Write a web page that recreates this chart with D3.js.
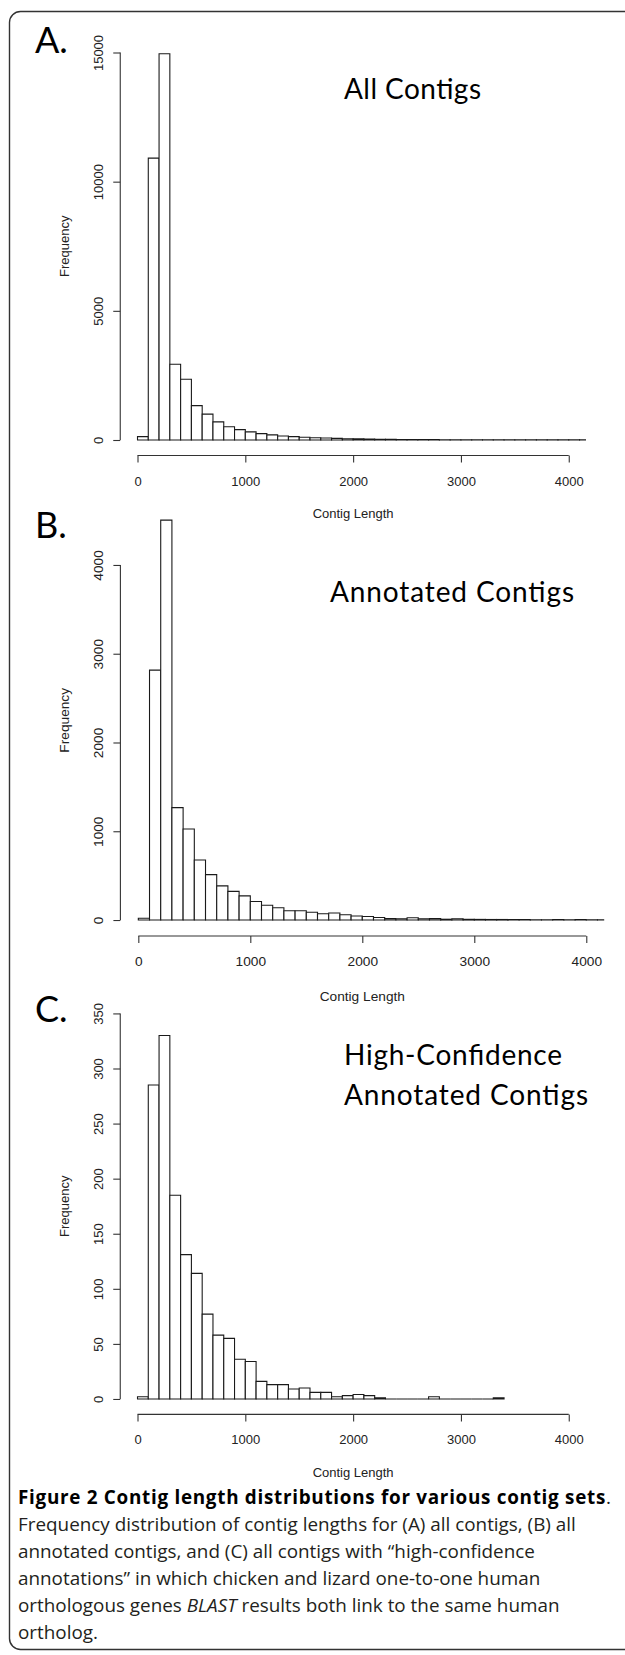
<!DOCTYPE html>
<html>
<head>
<meta charset="utf-8">
<script src="https://cdn.jsdelivr.net/npm/d3@7"></script>
<style>
  body { margin: 0; background: #fff; }
  .chart { width: 625px; height: 1655px; }
</style>
</head>
<body>
<div class="chart"></div>
<script>
// histogram counts, one value per 100-long bin starting at 0
const binWidth = 100;
const allContigs = [130, 10910, 14950, 2930, 2350, 1330, 1000, 700, 515, 400,
  315, 245, 200, 155, 130, 105, 85, 75, 62, 50,
  42, 35, 28, 24, 20, 18, 15, 13, 12, 10,
  9, 8, 7, 6, 6, 5, 5, 4, 4, 3, 3, 3];
const annotatedContigs = [20, 2815, 4505, 1266, 1026, 676, 511, 385, 323, 272,
  208, 167, 139, 105, 105, 88, 70, 79, 60, 45,
  40, 28, 16, 14, 25, 14, 16, 9, 15, 8,
  7, 6, 6, 5, 5, 3, 2, 4, 2, 4, 2, 3];
const highConfContigs = [2, 285, 330, 185, 131, 114, 77, 58, 55, 36,
  34, 16, 13, 13, 9, 10, 6, 6, 2, 3,
  4, 3, 1, 0, 0, 0, 0, 2, 0, 0,
  0, 0, 0, 1];

const xTicks = [0, 1000, 2000, 3000, 4000];
const yTicksA = [0, 5000, 10000, 15000];
const yTicksB = [0, 1000, 2000, 3000, 4000];
const yTicksC = [0, 50, 100, 150, 200, 250, 300, 350];

const letters = ['A.', 'B.', 'C.'];
const titles = [['All Contigs'], ['Annotated Contigs'], ['High-Confidence', 'Annotated Contigs']];
const xLabel = 'Contig Length';
const yLabel = 'Frequency';

const captionBold = 'Figure 2 Contig length distributions for various contig sets';
const captionLines = [
  'Frequency distribution of contig lengths for (A) all contigs, (B) all',
  'annotated contigs, and (C) all contigs with \u201chigh-confidence',
  'annotations\u201d in which chicken and lizard one-to-one human',
  ['orthologous genes ', 'BLAST', ' results both link to the same human'],
  'ortholog.'
];

const width = 625;
const height = 1655;

const svg = d3.select('.chart')
  .append('svg')
  .attr('width', width)
  .attr('height', height);

// rounded frame, open on the right (runs off the page)
svg.append('rect')
  .attr('x', 9.5)
  .attr('y', 11.5)
  .attr('width', 660)
  .attr('height', 1638)
  .attr('rx', 11)
  .style('fill', 'none')
  .style('stroke', '#333')
  .style('stroke-width', 1.4);

// widths the big titles take in the figure (their font is narrower than Lato)
const titleWidth = {'All Contigs': 137, 'Annotated Contigs': 244, 'High-Confidence': 218};

// plot regions, R style: usr range is the data range widened by 4%
const panels = [
  {counts: allContigs, yTicks: yTicksA, yDom: [-600, 15600],
   x0: 120.25, x1: 586, top: 37, bottom: 455.5, fs: 13,
   letterY: 52.7, titleX: 344, titleY: 99.3},
  {counts: annotatedContigs, yTicks: yTicksB, yDom: [-180, 4680],
   x0: 120.4, x1: 604.2, top: 504.6, bottom: 936, fs: 13.7,
   letterY: 538.3, titleX: 330, titleY: 601.7},
  {counts: highConfContigs, yTicks: yTicksC, yDom: [-14, 364],
   x0: 120.25, x1: 586, top: 998, bottom: 1414.4, fs: 13,
   letterY: 1021.7, titleX: 344, titleY: 1065}
];

panels.forEach((p, i) => {
  const x = d3.scaleLinear().domain([-160, 4160]).range([p.x0, p.x1]);
  const y = d3.scaleLinear().domain(p.yDom).range([p.bottom, p.top]);
  const g = svg.append('g').attr('class', 'panel');

  g.append('clipPath')
    .attr('id', 'clip' + i)
    .append('rect')
    .attr('x', p.x0)
    .attr('y', p.top)
    .attr('width', p.x1 - p.x0)
    .attr('height', p.bottom - p.top);

  // bars drawn as closed paths so empty bins still show as a line
  g.append('g')
    .attr('clip-path', 'url(#clip' + i + ')')
    .selectAll('path')
    .data(p.counts)
    .join('path')
    .attr('d', (d, k) => {
      const a = x(k * binWidth), b = x((k + 1) * binWidth);
      return `M${a},${y(0)}V${y(d)}H${b}V${y(0)}Z`;
    })
    .style('fill', 'white')
    .style('stroke', '#1a1a1a')
    .style('stroke-width', 1.1);

  // x axis
  const xa = g.append('g')
    .attr('transform', `translate(0,${p.bottom})`)
    .call(d3.axisBottom(x).tickValues(xTicks).tickSize(7).tickSizeOuter(0).tickFormat(d3.format('d')));
  xa.select('.domain').attr('d', `M${x(0)},0H${x(4000)}`);
  xa.selectAll('text').attr('y', 30).attr('dy', 0);

  // y axis
  const ya = g.append('g')
    .attr('transform', `translate(${p.x0},0)`)
    .call(d3.axisLeft(y).tickValues(p.yTicks).tickSize(7).tickSizeOuter(0).tickFormat(d3.format('d')));
  ya.select('.domain').attr('d', `M0,${y(0)}V${y(d3.max(p.yTicks))}`);
  ya.selectAll('text')
    .attr('transform', 'rotate(-90)')
    .attr('x', 0)
    .attr('y', -17.5)
    .attr('dy', 0)
    .attr('text-anchor', 'middle');

  [xa, ya].forEach(a => {
    a.selectAll('.domain, line').style('stroke', '#333').style('stroke-width', 1.1);
    a.selectAll('text')
      .style('font-family', '"Liberation Sans", Arial, sans-serif')
      .style('font-size', p.fs + 'px')
      .style('fill', '#222');
  });

  // axis titles
  g.append('text')
    .text(xLabel)
    .attr('x', (x(0) + x(4000)) / 2)
    .attr('y', p.bottom + (i == 1 ? 65 : 62.5))
    .attr('text-anchor', 'middle')
    .style('font-family', '"Liberation Sans", Arial, sans-serif')
    .style('font-size', p.fs + 'px')
    .style('fill', '#222');

  g.append('text')
    .text(yLabel)
    .attr('transform', `translate(68.5,${(p.top + p.bottom) / 2}) rotate(-90)`)
    .attr('text-anchor', 'middle')
    .style('font-family', '"Liberation Sans", Arial, sans-serif')
    .style('font-size', p.fs + 'px')
    .style('fill', '#222');

  // panel letter
  g.append('text')
    .text(letters[i])
    .attr('x', 35)
    .attr('y', p.letterY)
    .style('font-family', 'Lato, sans-serif')
    .style('font-size', '36px')
    .style('fill', '#000');

  // panel title
  titles[i].forEach((t, j) => {
    g.append('text')
      .text(t)
      .attr('x', p.titleX)
      .attr('y', p.titleY + j * 40)
      .attr('textLength', titleWidth[t])
      .attr('lengthAdjust', 'spacing')
      .style('font-family', 'Lato, sans-serif')
      .style('font-size', '28px')
      .style('fill', '#000');
  });
});

// caption
const cap = svg.append('g')
  .style('font-family', '"Open Sans", "Noto Sans", sans-serif')
  .style('fill', '#231f20');

const first = cap.append('text').attr('x', 18).attr('y', 1504);
const boldPart = first.append('tspan').text(captionBold).style('font-weight', 'bold').style('fill', '#000');
first.append('tspan').text('.');

captionLines.forEach((line, k) => {
  const t = cap.append('text').attr('x', 18).attr('y', 1531 + k * 27);
  if (Array.isArray(line)) {
    line.forEach((s, m) => {
      t.append('tspan').text(s).style('font-style', m == 1 ? 'italic' : 'normal');
    });
  } else {
    t.text(line);
  }
});

// size the caption so the second line spans the same width as the figure's
cap.style('font-size', '17px');
const w = cap.selectAll('text').nodes()[1].getComputedTextLength();
cap.style('font-size', (17 * 558 / w).toFixed(2) + 'px');

// the bold heading runs wider in the figure: spread its letters to fit
const bw = boldPart.node().getComputedTextLength();
boldPart.style('letter-spacing', ((588 - bw) / captionBold.length).toFixed(3) + 'px');
</script>
</body>
</html>
